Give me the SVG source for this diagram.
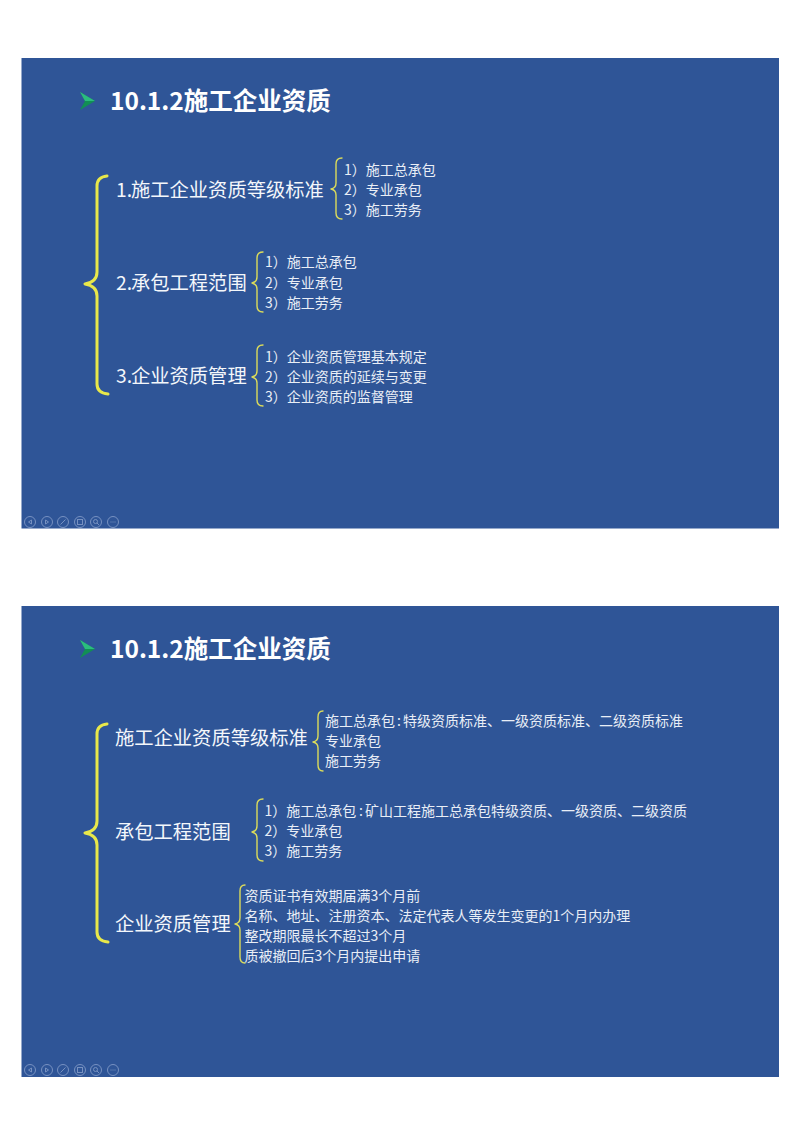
<svg xmlns="http://www.w3.org/2000/svg" xmlns:xlink="http://www.w3.org/1999/xlink" width="800" height="1132" viewBox="0 0 800 1132">
<style>
text{font-family:"Noto Sans CJK SC","Noto Sans",sans-serif;fill:#f4f7fb}
.title{font-size:24.5px;font-weight:700;fill:#fff}
.big{font-size:19.3px}
.small{font-size:14px;fill:#e9eef6}
.slide{fill:#2f5597}
.main{fill:none;stroke:#e8e84a;stroke-width:3;stroke-linecap:round;stroke-linejoin:round}
.sub{fill:none;stroke:#dcdc5a;stroke-width:1.4;stroke-linecap:round;stroke-linejoin:round}
.ctl{fill:none;stroke:#8fa6cf;stroke-width:1;opacity:.75}
</style>
<defs>
<g id="bullet"><path d="M80 92L95 101L80 110L85 101Z" fill="#128f55"/><path d="M80 92L95 101L85 101Z" fill="#2bbd7e"/></g>
<g id="controls" class="ctl">
<circle cx="30" cy="522" r="5.5"/><path d="M31.500 520L28.500 522L31.500 524Z"/>
<circle cx="47" cy="522" r="5.500"/><path d="M45.500 520L48.500 522L45.500 524Z"/>
<circle cx="63" cy="522" r="5.500"/><path d="M60.500 524.500L65.500 519.500"/>
<circle cx="80" cy="522" r="5.500"/><rect x="77.500" y="519.500" width="5" height="5"/>
<circle cx="96" cy="522" r="5.500"/><circle cx="95.500" cy="521.500" r="2"/><path d="M97 523L99 525"/>
<circle cx="113" cy="522" r="5.500"/><path d="M110.500 522H111.500M112.500 522H113.500M114.500 522H115.500"/>
</g>
</defs>
<rect width="800" height="1132" fill="#fff"/>
<rect class="slide" x="21.500" y="58" width="757.500" height="470.500"/>
<rect class="slide" x="21.500" y="606" width="757.500" height="471"/>
<use xlink:href="#bullet" href="#bullet"/>
<use xlink:href="#bullet" href="#bullet" y="548"/>
<use xlink:href="#controls" href="#controls"/>
<use xlink:href="#controls" href="#controls" y="548"/>
<g id="connectors">
<path class="main" d="M107 176Q97 177 97 186V272Q97 282 85 284Q97 286 97 296V384Q97 393 108 394"/>
<path class="sub" d="M342 158Q336 158 336 164V183Q336 188 331 189Q336 190 336 195V213Q336 219 342 219"/>
<path class="sub" d="M263 252Q257 252 257 258V277Q257 282 252 283Q257 284 257 289V306Q257 312 263 312"/>
<path class="sub" d="M263 345Q257 345 257 351V371Q257 376 252 377Q257 378 257 383V400Q257 406 263 406"/>
<path class="main" d="M107 724Q97 725 97 734V821Q97 831 85 833Q97 835 97 845V932Q97 941 108 942"/>
<path class="sub" d="M323 711Q318 711 318 717V736Q318 741 313 742Q318 743 318 748V765Q318 771 323 771"/>
<path class="sub" d="M263 799Q257 799 257 805V826Q257 831 252 832Q257 833 257 838V855Q257 861 263 861"/>
<path class="sub" d="M245 885Q240 885 240 891V918Q240 923 235 924Q240 925 240 930V957Q240 963 245 963"/>
</g>
<g id="slide1-title"><text class="title" x="110" y="110">10.1.2施工企业资质</text></g>
<g id="s1-n1"><text class="big" x="116" y="197">1.<tspan x="131">施工企业资质等级标准</tspan></text></g>
<g id="s1-n1-items"><text class="small" x="344" y="174.500">1）施工总承包</text><text class="small" x="344" y="194.500">2）专业承包</text><text class="small" x="344" y="214.500">3）施工劳务</text></g>
<g id="s1-n2"><text class="big" x="116" y="290">2.<tspan x="131">承包工程范围</tspan></text></g>
<g id="s1-n2-items"><text class="small" x="265" y="267">1）施工总承包</text><text class="small" x="265" y="288">2）专业承包</text><text class="small" x="265" y="308">3）施工劳务</text></g>
<g id="s1-n3"><text class="big" x="116" y="383">3.<tspan x="131">企业资质管理</tspan></text></g>
<g id="s1-n3-items"><text class="small" x="265" y="361.500">1）企业资质管理基本规定</text><text class="small" x="265" y="381.500">2）企业资质的延续与变更</text><text class="small" x="265" y="401.500">3）企业资质的监督管理</text></g>
<g id="slide2-title"><text class="title" x="110" y="658">10.1.2施工企业资质</text></g>
<g id="s2-n1"><text class="big" x="115" y="745">施工企业资质等级标准</text></g>
<g id="s2-n1-items"><text class="small" x="325" y="726">施工总承包<tspan x="397">:</tspan><tspan x="403">特级资质标准、一级资质标准、二级资质标准</tspan></text><text class="small" x="325" y="746">专业承包</text><text class="small" x="325" y="766">施工劳务</text></g>
<g id="s2-n2"><text class="big" x="115" y="839">承包工程范围</text></g>
<g id="s2-n2-items"><text class="small" x="264.500" y="816">1）施工总承包<tspan x="359">:</tspan><tspan x="365">矿山工程施工总承包特级资质、一级资质、二级资质</tspan></text><text class="small" x="264.500" y="836">2）专业承包</text><text class="small" x="264.500" y="856">3）施工劳务</text></g>
<g id="s2-n3"><text class="big" x="115" y="931">企业资质管理</text></g>
<g id="s2-n3-items"><text class="small" x="244.500" y="901">资质证书有效期届满3个月前</text><text class="small" x="244.500" y="921">名称、地址、注册资本、法定代表人等发生变更的1个月内办理</text><text class="small" x="244.500" y="941">整改期限最长不超过3个月</text><text class="small" x="244.500" y="961">质被撤回后3个月内提出申请</text></g>
</svg>
